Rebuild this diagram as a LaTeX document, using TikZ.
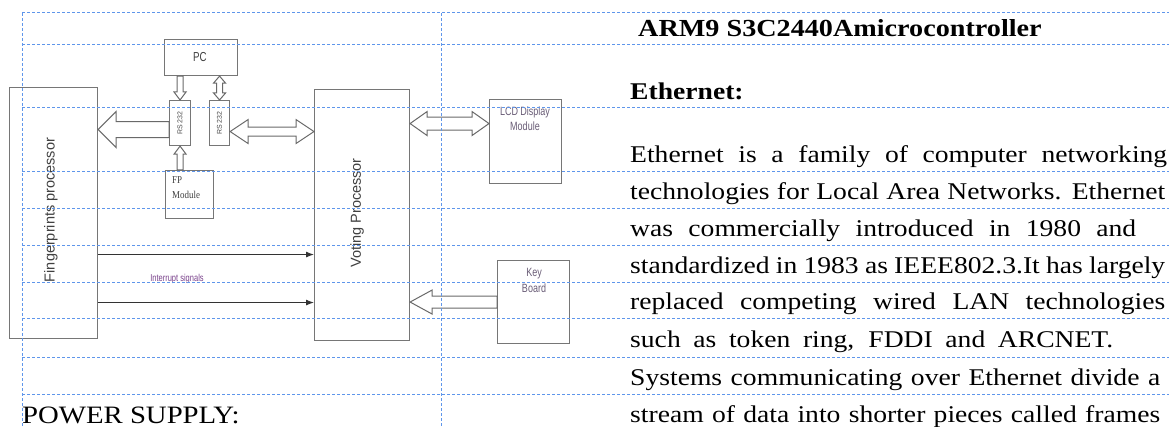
\documentclass[tikz,border=0pt]{standalone}
\usepackage{fontspec}
\setmainfont{Liberation Serif}[FakeStretch=1.15]
\newfontfamily\dsans{Liberation Sans}
\newfontfamily\dnarrow{Liberation Sans}[FakeStretch=0.75]
\newfontfamily\dserif{Liberation Serif}[FakeStretch=0.85]
\usetikzlibrary{calc,arrows.meta}
\definecolor{gridblue}{RGB}{95,150,235}
\definecolor{boxgray}{RGB}{118,118,118}
\definecolor{arrgray}{RGB}{105,105,105}
\definecolor{lblpurple}{RGB}{105,92,118}
\definecolor{intpurple}{RGB}{122,66,140}
\tikzset{
  box/.style={draw=boxgray, line width=1.1pt, inner sep=0pt, anchor=north west},
  blockarrow/.style={draw=arrgray, line width=1pt, line join=miter},
  sig/.style={draw=black!80, line width=1pt, -{Latex[length=8pt,width=6pt]}},
  grid/.style={draw=gridblue, line width=1pt, dash pattern=on 3pt off 2pt},
  txt/.style={inner sep=0pt, anchor=base west},
  lbl/.style={inner sep=0pt, anchor=center}
}
\newcommand\hollowone[5]{%
  \coordinate (hbA) at ($(#2)!#5!(#1)$);
  \draw[blockarrow] (#2) -- ($(hbA)!#4!90:(#1)$) -- ($(hbA)!#3!90:(#1)$)
    -- ($(#1)!#3!-90:(#2)$) -- ($(#1)!#3!90:(#2)$) -- ($(hbA)!#3!-90:(#1)$)
    -- ($(hbA)!#4!-90:(#1)$) -- cycle;
}
\newcommand\hollowtwo[5]{%
  \coordinate (hbA) at ($(#1)!#5!(#2)$);
  \coordinate (hbB) at ($(#2)!#5!(#1)$);
  \draw[blockarrow] (#1) -- ($(hbA)!#4!90:(#2)$) -- ($(hbA)!#3!90:(#2)$)
    -- ($(hbB)!#3!-90:(#1)$) -- ($(hbB)!#4!-90:(#1)$) -- (#2)
    -- ($(hbB)!#4!90:(#1)$) -- ($(hbB)!#3!90:(#1)$) -- ($(hbA)!#3!-90:(#2)$)
    -- ($(hbA)!#4!-90:(#2)$) -- cycle;
}
\begin{document}
\begin{tikzpicture}[x=1pt,y=-1pt]
\useasboundingbox (0,0) rectangle (1169,427);
\fill[white] (0,0) rectangle (1169,427);

% boxes
\node[box, minimum width=73pt, minimum height=36pt] (pc) at (164,39) {};
\node[box, minimum width=21pt, minimum height=45pt] (rs1) at (169,100) {};
\node[box, minimum width=20pt, minimum height=45pt] (rs2) at (209,100) {};
\node[box, minimum width=48pt, minimum height=48pt] (fpm) at (165,170) {};
\node[box, minimum width=88pt, minimum height=251pt] (fpp) at (9,87) {};
\node[box, minimum width=95pt, minimum height=251pt] (vp) at (314,89) {};
\node[box, minimum width=72pt, minimum height=84pt] (lcd) at (489,99) {};
\node[box, minimum width=72pt, minimum height=83pt] (kb) at (497,260) {};

% box labels
\node[lbl, text=black!75, font=\dnarrow\fontsize{13}{13}\selectfont] (pct) at (200,57) {PC};
\node[lbl, text=black!70] (rs1t) at (rs1.center) {\rotatebox{90}{\dsans\fontsize{7}{7}\selectfont RS 232}};
\node[lbl, text=black!70] (rs2t) at (rs2.center) {\rotatebox{90}{\dsans\fontsize{7}{7}\selectfont RS 232}};
\node[inner sep=0pt, anchor=north west, align=left, text=black!75,
      font=\dserif\fontsize{10.5}{15}\selectfont] (fpmt) at (172,176) {FP\\Module};
\node[lbl, text=black!75] (fppt) at (51,210) {\rotatebox{90}{\dsans\fontsize{14.5}{14.5}\selectfont Fingerprints processor}};
\node[lbl, text=black!75] (vpt) at (357,213) {\rotatebox{90}{\dsans\fontsize{14.5}{14.5}\selectfont Voting Processor}};
\node[lbl, align=center, text=lblpurple, font=\dnarrow\fontsize{12}{15}\selectfont] (lcdt) at (525,119)
  {LCD Display\\Module};
\node[lbl, align=center, text=lblpurple, font=\dnarrow\fontsize{12}{16}\selectfont] (kbt) at (534,280)
  {Key\\Board};
\node[lbl, text=intpurple, font=\dnarrow\fontsize{10}{10}\selectfont] (intt) at (177,279) {Interrupt signals};

% hollow arrows
\coordinate (t1) at (pc.south -| rs1.north);
\hollowone{t1}{rs1.north}{3pt}{6pt}{8pt}
\coordinate (t2) at (pc.south -| rs2.north);
\hollowtwo{t2}{rs2.north}{3pt}{6pt}{7pt}
\coordinate (t3) at (fpm.north -| rs1.south);
\hollowone{t3}{rs1.south}{3pt}{6pt}{8pt}
\coordinate (t4) at ($(rs1.west)+(0,6.5)$);
\coordinate (p4) at (fpp.east |- t4);
\hollowone{t4}{p4}{8pt}{18pt}{18pt}
\coordinate (t5) at ($(rs2.east)+(0,8.5)$);
\coordinate (p5) at (vp.west |- t5);
\hollowtwo{t5}{p5}{4.5pt}{12pt}{18pt}
\coordinate (t6) at ($(lcd.west)+(0,-18)$);
\coordinate (p6) at (vp.east |- t6);
\hollowtwo{p6}{t6}{6.5pt}{12pt}{17pt}
\coordinate (p7) at (vp.east |- kb.west);
\hollowone{kb.west}{p7}{6pt}{12pt}{22pt}

% interrupt signal lines
\coordinate (i1) at ($(fpp.east)+(0,41.5)$);
\coordinate (i2) at ($(fpp.east)+(0,89.5)$);
\draw[sig] (i1) -- (vp.west |- i1);
\draw[sig] (i2) -- (vp.west |- i2);

% grid lines
\foreach \yy in {13,45,108,172,209,246,283,319,357,394}
  \draw[grid] (22,\yy) -- (1169,\yy);
\draw[grid] (22,13) -- (22,427);
\draw[grid] (441,13) -- (441,427);

% right-hand text
\node[txt] (h1) at (638,37) {\fontsize{24.5}{24.5}\selectfont\bfseries ARM9 S3C2440Amicrocontroller};
\node[txt] (h2) at (630,100) {\fontsize{24}{24}\selectfont\bfseries Ethernet:};
\node[txt] (b1) at (630,163) {\fontsize{24}{24}\selectfont\makebox[537pt][s]{Ethernet is a family of computer networking}};
\node[txt] (b2) at (630,200) {\fontsize{24}{24}\selectfont\makebox[535pt][s]{technologies for Local Area Networks. Ethernet}};
\node[txt] (b3) at (630,237) {\fontsize{24}{24}\selectfont\makebox[506pt][s]{was commercially introduced in 1980 and}};
\node[txt] (b4) at (630,274) {\fontsize{24}{24}\selectfont\makebox[535pt][s]{standardized in 1983 as IEEE802.3.It has largely}};
\node[txt] (b5) at (630,310) {\fontsize{24}{24}\selectfont\makebox[535pt][s]{replaced competing wired LAN technologies}};
\node[txt] (b6) at (630,347) {\fontsize{24}{24}\selectfont\makebox[483pt][s]{such as token ring, FDDI and ARCNET.}};
\node[txt] (b7) at (630,385) {\fontsize{24}{24}\selectfont\makebox[530pt][s]{Systems communicating over Ethernet divide a}};
\node[txt] (b8) at (630,422) {\fontsize{24}{24}\selectfont\makebox[530pt][s]{stream of data into shorter pieces called frames}};
\node[txt] (ps) at (22,423) {\fontsize{25}{25}\selectfont POWER SUPPLY:};
\end{tikzpicture}
\end{document}
